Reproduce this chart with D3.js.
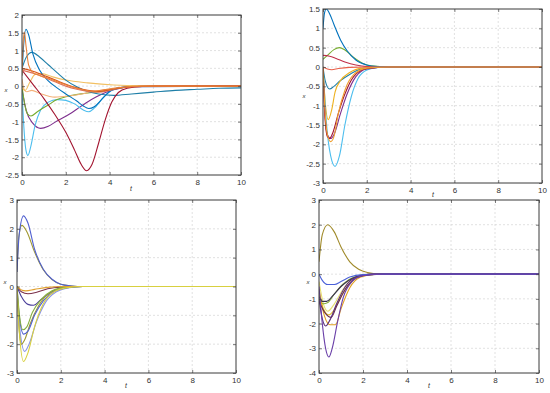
<!DOCTYPE html>
<html><head><meta charset="utf-8">
<script src="https://cdn.jsdelivr.net/npm/d3@7/dist/d3.min.js"></script>
<style>body{margin:0;background:#fff;}svg{display:block;font-family:"Liberation Sans",Arial,sans-serif;}</style>
</head><body><svg id="c" width="550" height="393"></svg>
<script>
// ---------- DATA: [t, x] samples ----------
// Panel 1
const p1Ticks = [2,1.5,1,0.5,0,-0.5,-1,-1.5,-2,-2.5];
const p1BlueA = [[0,0.3],[0.08,1.2],[0.18,1.6],[0.3,1.45],[0.5,0.9],[0.8,0.45],[1.2,0.15],[1.6,-0.05],[2,-0.22],[2.5,-0.42],[2.8,-0.56],[3.05,-0.63],[3.3,-0.58],[3.6,-0.4],[4,-0.15],[4.5,-0.04],[5,-0.01],[10,0]];
const p1BlueB = [[0,0.5],[0.2,0.82],[0.45,0.95],[0.8,0.82],[1.2,0.6],[1.6,0.38],[2,0.17],[2.5,-0.02],[3,-0.15],[3.5,-0.22],[4.2,-0.26],[5,-0.22],[6,-0.17],[7,-0.12],[8,-0.09],[9,-0.06],[10,-0.05]];
const p1OrangeSpike = [[0,0.3],[0.05,1.2],[0.11,1.52],[0.18,1.15],[0.3,0.6],[0.5,0.38],[0.8,0.3],[1.2,0.22],[1.8,0.08],[2.5,-0.06],[3.2,-0.14],[3.8,-0.1],[4.5,-0.04],[5.5,0],[10,0]];
const p1Red1 = [[0,0.5],[0.5,0.42],[1,0.3],[1.5,0.18],[2,0.05],[2.5,-0.05],[3,-0.12],[3.5,-0.15],[4,-0.1],[4.5,-0.05],[5,-0.02],[6,0],[10,0]];
const p1Red2 = [[0,0.45],[0.5,0.36],[1,0.25],[1.5,0.12],[2,0],[2.5,-0.09],[3,-0.15],[3.5,-0.17],[4,-0.12],[4.5,-0.05],[5,-0.02],[6,0],[10,0]];
const p1Yellow = [[0,-0.05],[0.15,-0.12],[0.35,0.1],[0.6,0.33],[0.9,0.35],[1.4,0.26],[2,0.17],[3,0.09],[4.2,0.03],[5.5,0.01],[10,0]];
const p1Peach = [[0,0.2],[0.1,-0.1],[0.22,-0.16],[0.45,-0.12],[0.8,-0.2],[1.5,-0.31],[2.2,-0.27],[2.9,-0.2],[3.6,-0.12],[4.4,-0.04],[5.5,0],[10,0]];
const p1Green = [[0,0],[0.12,-0.5],[0.25,-0.78],[0.41,-0.84],[0.7,-0.72],[1.2,-0.53],[1.6,-0.38],[2,-0.3],[2.9,-0.2],[3.9,-0.12],[4.6,-0.04],[5.5,0],[10,0]];
const p1Purple = [[0,-0.1],[0.2,-0.7],[0.5,-1.05],[0.85,-1.19],[1.2,-1.13],[1.6,-0.98],[2,-0.85],[2.5,-0.65],[2.9,-0.48],[3.4,-0.3],[3.9,-0.16],[4.5,-0.06],[5,-0.02],[10,0]];
const p1LightBlue = [[0,-0.1],[0.08,-1.1],[0.18,-1.8],[0.27,-1.95],[0.4,-1.7],[0.6,-1.1],[0.85,-0.67],[1.2,-0.45],[1.6,-0.38],[2,-0.4],[2.4,-0.5],[2.8,-0.67],[3.05,-0.72],[3.3,-0.62],[3.7,-0.33],[4.1,-0.12],[4.5,-0.05],[5,-0.02],[10,0]];
const p1DarkRed = [[0,0.45],[0.5,0.05],[1,-0.35],[1.5,-0.8],[2,-1.3],[2.4,-1.8],[2.7,-2.2],[2.95,-2.38],[3.2,-2.2],[3.5,-1.6],[3.8,-0.95],[4.1,-0.45],[4.4,-0.18],[4.8,-0.06],[5.5,-0.01],[10,0]];

// Panel 2
const p2Ticks = [1.5,1,0.5,0,-0.5,-1,-1.5,-2,-2.5,-3];
const p2Blue = [[0,1.0],[0.07,1.4],[0.15,1.5],[0.3,1.38],[0.5,1.1],[0.8,0.7],[1.1,0.42],[1.5,0.18],[2,0.05],[2.5,0.01],[3,0],[10,0]];
const p2Green = [[0,0.2],[0.2,0.3],[0.5,0.45],[0.75,0.5],[1,0.44],[1.4,0.25],[1.8,0.1],[2.2,0.03],[3,0],[10,0]];
const p2DarkRed = [[0,0.3],[0.3,0.28],[0.6,0.22],[1,0.13],[1.5,0.05],[2,0.01],[3,0],[10,0]];
const p2Orange = [[0,0],[0.2,-0.05],[0.4,-0.07],[0.7,-0.04],[1.2,-0.01],[2,0],[10,0]];
const p2Teal = [[0,0],[0.1,-0.35],[0.3,-0.57],[0.5,-0.5],[0.8,-0.35],[1.2,-0.2],[1.6,-0.08],[2,-0.02],[3,0],[10,0]];
const p2Yellow = [[0,0],[0.1,-0.9],[0.24,-1.36],[0.4,-1.1],[0.55,-0.65],[0.8,-0.35],[1.2,-0.15],[1.8,-0.03],[3,0],[10,0]];
const p2Orange2 = [[0,0],[0.1,-1.2],[0.2,-1.75],[0.35,-1.93],[0.5,-1.8],[0.7,-1.2],[1,-0.6],[1.4,-0.2],[2,-0.03],[3,0],[10,0]];
const p2Purple = [[0,0],[0.1,-1.3],[0.2,-1.75],[0.35,-1.85],[0.5,-1.75],[0.8,-1.2],[1.1,-0.7],[1.5,-0.25],[2,-0.05],[3,0],[10,0]];
const p2DarkRed2 = [[0,0],[0.08,-1.2],[0.2,-1.8],[0.3,-1.85],[0.45,-1.7],[0.7,-1.2],[1,-0.7],[1.4,-0.25],[2,-0.04],[3,0],[10,0]];
const p2LightBlue = [[0,0],[0.15,-1.4],[0.35,-2.3],[0.55,-2.57],[0.75,-2.3],[1,-1.5],[1.3,-0.75],[1.6,-0.3],[2,-0.08],[2.5,-0.01],[3,0],[10,0]];

// Panel 3
const p3Ticks = [3,2,1,0,-1,-2,-3];
const p3BlueHigh = [[0,0.5],[0.1,1.8],[0.3,2.45],[0.5,2.2],[0.8,1.3],[1.2,0.6],[1.6,0.25],[2,0.08],[2.5,0.02],[3,0],[10,0]];
const p3OliveHigh = [[0,0.5],[0.08,1.7],[0.22,2.12],[0.45,1.9],[0.8,1.2],[1.2,0.58],[1.6,0.24],[2,0.08],[2.5,0.02],[3,0],[10,0]];
const p3Orange = [[0,0],[0.2,-0.12],[0.4,-0.15],[0.8,-0.1],[1.4,-0.03],[2,0],[10,0]];
const p3DarkRed = [[0,0],[0.2,-0.18],[0.5,-0.25],[0.9,-0.2],[1.4,-0.08],[2,-0.02],[3,0],[10,0]];
const p3DarkBlue = [[0,0],[0.2,-0.35],[0.5,-0.62],[0.75,-0.65],[1.1,-0.45],[1.6,-0.18],[2.2,-0.04],[3,0],[10,0]];
const p3Green = [[0,0],[0.1,-0.9],[0.27,-1.5],[0.45,-1.4],[0.7,-0.9],[1.1,-0.45],[1.6,-0.15],[2.2,-0.03],[3,0],[10,0]];
const p3Blue2 = [[0,0],[0.1,-1.0],[0.3,-1.65],[0.5,-1.55],[0.8,-1.0],[1.2,-0.5],[1.7,-0.17],[2.3,-0.04],[3,0],[10,0]];
const p3Olive2 = [[0,0],[0.08,-1.3],[0.2,-2.0],[0.35,-1.85],[0.6,-1.3],[1,-0.65],[1.5,-0.22],[2.2,-0.04],[3,0],[10,0]];
const p3LightBlue = [[0,0],[0.12,-1.4],[0.35,-2.25],[0.55,-2.0],[0.9,-1.2],[1.3,-0.55],[1.8,-0.18],[2.4,-0.04],[3,0],[10,0]];
const p3Yellow = [[0,0],[0.1,-1.5],[0.3,-2.6],[0.5,-2.3],[0.8,-1.4],[1.2,-0.6],[1.7,-0.18],[2.3,-0.04],[3,0],[10,0]];

// Panel 4
const p4Ticks = [3,2,1,0,-1,-2,-3,-4];
const p4OliveHigh = [[0,0.5],[0.15,1.6],[0.4,2.0],[0.7,1.7],[1,1.1],[1.4,0.5],[1.8,0.2],[2.2,0.07],[2.8,0.01],[3.5,0],[10,0]];
const p4Blue = [[0,0],[0.15,-0.25],[0.4,-0.42],[0.7,-0.42],[1,-0.3],[1.4,-0.12],[2,-0.02],[3,0],[10,0]];
const p4Dark1 = [[0,-0.9],[0.15,-1.1],[0.35,-1.1],[0.6,-0.9],[1,-0.5],[1.5,-0.18],[2.2,-0.03],[3,0],[10,0]];
const p4Green = [[0,-1.0],[0.2,-1.2],[0.4,-1.15],[0.7,-0.8],[1.1,-0.4],[1.6,-0.12],[2.4,0],[10,0]];
const p4Yellow = [[0,-0.8],[0.2,-1.4],[0.45,-1.65],[0.65,-1.5],[1,-0.9],[1.5,-0.3],[2,-0.06],[3,0],[10,0]];
const p4Orange = [[0,-0.6],[0.25,-1.7],[0.5,-2.05],[0.75,-2.05],[1,-1.4],[1.4,-0.55],[1.9,-0.12],[2.6,0],[10,0]];
const p4DarkPurple = [[0,-1.0],[0.15,-1.8],[0.3,-2.1],[0.5,-1.85],[0.8,-1.2],[1.2,-0.5],[1.7,-0.12],[2.4,0],[10,0]];
const p4Purple = [[0,-0.5],[0.15,-2.0],[0.3,-3.0],[0.45,-3.35],[0.6,-3.0],[0.85,-1.9],[1.1,-0.95],[1.5,-0.3],[2,-0.06],[3,0],[10,0]];
const p4DarkRed = [[0,-1.1],[0.3,-1.6],[0.55,-1.75],[0.8,-1.3],[1.2,-0.6],[1.7,-0.15],[2.4,0],[10,0]];
const p4LightYellow = [[0,-0.3],[0.2,-1.2],[0.4,-1.5],[0.7,-1.2],[1.1,-0.6],[1.6,-0.15],[2.3,0],[10,0]];

const xTicks = [0,2,4,6,8,10];

// ---------- LAYOUT / STYLE ----------
const panels = [
  {box:[22,15,241,175], y:[-2.5,2], yt:p1Ticks, xlab:[131,191], ylab:[6,92], series:[
    [p1Purple,"#7E2F8E"],[p1LightBlue,"#4DBEEE"],[p1Green,"#77AC30"],[p1Peach,"#F4B27A"],[p1Yellow,"#F2C063"],
    [p1BlueB,"#1F7FA8"],[p1BlueA,"#0072BD"],[p1DarkRed,"#A2142F"],[p1Red2,"#E0705A"],[p1Red1,"#D95319"],[p1OrangeSpike,"#E8823A"]]},
  {box:[323,9,542,183], y:[-3,1.5], yt:p2Ticks, xlab:[433,197], ylab:[304,98], series:[
    [p2Green,"#77AC30"],[p2DarkRed,"#C0304A"],[p2Teal,"#1F7FA8"],[p2Yellow,"#EDB120"],
    [p2LightBlue,"#4DBEEE"],[p2Purple,"#7E2F8E"],[p2DarkRed2,"#A2142F"],[p2Blue,"#0072BD"],[p2Orange,"#E8604A"],[p2Orange2,"#F0A030"]]},
  {box:[17,200,236,373], y:[-3,3], yt:p3Ticks, xlab:[126,388], ylab:[5,284], series:[
    [p3DarkRed,"#7A2F4A"],[p3DarkBlue,"#4B3F9B"],[p3LightBlue,"#8A95E8"],
    [p3Olive2,"#A09830"],[p3Blue2,"#5060D0"],[p3Green,"#86B03F"],[p3OliveHigh,"#A09830"],[p3BlueHigh,"#5060D0"],[p3Orange,"#E0A030"],[p3Yellow,"#D8D040"]]},
  {box:[319,200,539,373], y:[-4,3], yt:p4Ticks, xlab:[429,388], ylab:[308,284], series:[
    [p4OliveHigh,"#A08A2A"],[p4LightYellow,"#E6DE70"],[p4Green,"#8AAE40"],[p4Yellow,"#E0C030"],[p4Orange,"#E0A020"],[p4DarkRed,"#6A2F4A"],
    [p4Dark1,"#3A3050"],[p4DarkPurple,"#5A2F7A"],[p4Blue,"#4A60D8"],[p4Purple,"#6A3FA8"]]}
];

const svg = d3.select("#c");
panels.forEach((p,i) => {
  const [x0,y0,x1,y1] = p.box;
  const x = d3.scaleLinear().domain([0,10]).range([x0,x1]);
  const y = d3.scaleLinear().domain(p.y).range([y1,y0]);
  const g = svg.append("g");
  // grid
  g.append("g").selectAll("line").data(xTicks.slice(1,-1)).join("line")
    .attr("x1",d=>x(d)).attr("x2",d=>x(d)).attr("y1",y0).attr("y2",y1)
    .attr("stroke","#d4d4d4").attr("stroke-width",0.7).attr("stroke-dasharray","2,2");
  g.append("g").selectAll("line").data(p.yt.slice(1,-1)).join("line")
    .attr("x1",x0).attr("x2",x1).attr("y1",d=>y(d)).attr("y2",d=>y(d))
    .attr("stroke","#d4d4d4").attr("stroke-width",0.7).attr("stroke-dasharray","2,2");
  // clip
  const cid = "clip"+i;
  svg.append("clipPath").attr("id",cid).append("rect").attr("x",x0).attr("y",y0).attr("width",x1-x0).attr("height",y1-y0);
  const line = d3.line().x(d=>x(d[0])).y(d=>y(d[1])).curve(d3.curveMonotoneX);
  g.append("g").attr("clip-path",`url(#${cid})`).selectAll("path").data(p.series).join("path")
    .attr("d",d=>line(d[0])).attr("fill","none").attr("stroke",d=>d[1]).attr("stroke-width",1.1);
  // axes
  g.append("g").attr("transform",`translate(0,${y1})`)
    .call(d3.axisBottom(x).tickValues(xTicks).tickSize(-3).tickPadding(4).tickFormat(d3.format("d")));
  g.append("g").attr("transform",`translate(${x0},0)`)
    .call(d3.axisLeft(y).tickValues(p.yt).tickSize(-3).tickPadding(3).tickFormat(d=>String(d)));
  // top/right ticks
  g.append("g").attr("transform",`translate(0,${y0})`).call(d3.axisTop(x).tickValues(xTicks).tickSize(-3).tickFormat(""));
  g.append("g").attr("transform",`translate(${x1},0)`).call(d3.axisRight(y).tickValues(p.yt).tickSize(-3).tickFormat(""));
  g.selectAll(".domain").remove();
  g.selectAll(".tick line").attr("stroke","#444").attr("stroke-width",0.7);
  g.selectAll(".tick text").attr("fill","#333").style("font-size","8px");
  g.append("rect").attr("x",x0).attr("y",y0).attr("width",x1-x0).attr("height",y1-y0)
    .attr("fill","none").attr("stroke","#3a3a3a").attr("stroke-width",1);
  g.append("text").attr("x",p.xlab[0]).attr("y",p.xlab[1]).attr("text-anchor","middle")
    .style("font-size","7px").style("font-style","italic").attr("fill","#333").text("t");
  g.append("text").attr("x",p.ylab[0]).attr("y",p.ylab[1]).attr("text-anchor","middle")
    .style("font-size","6px").style("font-style","italic").attr("fill","#333").text("x");
});
</script></body></html>
